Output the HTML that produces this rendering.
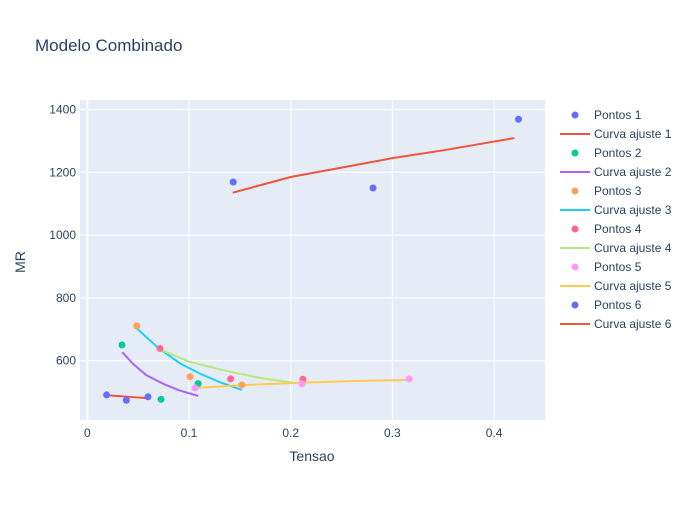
<!DOCTYPE html>
<html><head><meta charset="utf-8"><style>
body{margin:0;background:#fff;font-family:"Liberation Sans",Arial,sans-serif}
svg text{font-family:"Liberation Sans",Arial,sans-serif;fill:#2a3f5f}
</style></head><body>
<svg id="c" width="700" height="500" xmlns="http://www.w3.org/2000/svg">
<rect width="700" height="500" fill="#fff"/>
<text x="35" y="51" font-size="17">Modelo Combinado</text>
<rect x="80" y="100" width="465" height="320" fill="#e5ecf6"/>
<g id="grid"></g><g id="marks"></g><g id="legend"></g>
<text x="312" y="461" font-size="14" text-anchor="middle">Tensao</text>
<text x="25" y="262" font-size="14" text-anchor="middle" transform="rotate(-90 25 262)">MR</text>
</svg>
<script>
const xTicks=[0,0.1,0.2,0.3,0.4];
const yTicks=[600,800,1000,1200,1400];
const seriesNames=["1","2","3","4","5","6"];
const pointColors=["#636efa","#00cc96","#FFA15A","#FF6692","#FF97FF","#636efa"];
const curveColors=["#EF553B","#ab63fa","#19d3f3","#B6E880","#FECB52","#EF553B"];
const pts1x=[0.1435,0.281,0.424], pts1y=[1169,1150,1369];
const pts2x=[0.0341,0.109,0.0725], pts2y=[650,527,477];
const pts3x=[0.0486,0.101,0.152], pts3y=[711,549,523];
const pts4x=[0.0715,0.141,0.212], pts4y=[639,542,541];
const pts5x=[0.106,0.211,0.3166], pts5y=[513,526,542];
const pts6x=[0.019,0.0384,0.0597], pts6y=[491,474,485];
const cur1x=[0.143,0.2,0.25,0.3,0.35,0.42], cur1y=[1135,1185,1215,1245,1270,1309];
const cur2x=[0.0344,0.045,0.058,0.075,0.09,0.109], cur2y=[627,590,554,526,506,488];
const cur3x=[0.0486,0.07,0.091,0.11,0.13,0.152], cur3y=[703,640,592,560,532,507];
const cur4x=[0.0715,0.1,0.14,0.17,0.2025], cur4y=[636,597,565,545,530];
const cur5x=[0.106,0.15,0.211,0.26,0.3166], cur5y=[513,522,530,535,539];
const cur6x=[0.019,0.04,0.0597], cur6y=[490,485,481];
const P=[[pts1x,pts1y],[pts2x,pts2y],[pts3x,pts3y],[pts4x,pts4y],[pts5x,pts5y],[pts6x,pts6y]];
const C=[[cur1x,cur1y],[cur2x,cur2y],[cur3x,cur3y],[cur4x,cur4y],[cur5x,cur5y],[cur6x,cur6y]];
const NS="http://www.w3.org/2000/svg";
const X=v=>87.3+v*1017, Y=v=>360.7-(v-600)*0.314;
function mk(t,a,p){const e=document.createElementNS(NS,t);for(const k in a)e.setAttribute(k,a[k]);p.appendChild(e);return e;}
const g=document.getElementById('grid'),m=document.getElementById('marks'),lg=document.getElementById('legend');
xTicks.forEach(v=>{const l=mk('line',{x1:X(v),x2:X(v),y1:100,y2:420,stroke:'#fff','stroke-width':v===0?2:1},g);


const t=mk('text',{x:X(v),y:437,'font-size':12,'text-anchor':'middle'},g);t.textContent=String(v);

});
yTicks.forEach(v=>{const l=mk('line',{x1:80,x2:545,y1:Y(v),y2:Y(v),stroke:'#fff','stroke-width':1},g);


const t=mk('text',{x:76,y:Y(v)+4,'font-size':12,'text-anchor':'end'},g);t.textContent=String(v);

});
for(let i=0;i<6;i++){
 const [cx,cy]=C[i];
 const pl=mk('polyline',{points:cx.map((v,j)=>X(v)+','+Y(cy[j])).join(' '),fill:'none',stroke:curveColors[i],'stroke-width':2},m);
 
 
}
for(let i=0;i<6;i++){
 const [px,py]=P[i];
 px.forEach((v,j)=>{const c=mk('circle',{cx:X(v),cy:Y(py[j]),r:3.5,fill:pointColors[i]},m);
 
 });
}
for(let i=0;i<12;i++){
 const s=Math.floor(i/2),y=115+i*19,isP=i%2===0;
 if(isP){const c=mk('circle',{cx:575,cy:y,r:3.5,fill:pointColors[s]},lg);
  
  }
 else{const l=mk('line',{x1:560,x2:590,y1:y,y2:y,stroke:curveColors[s],'stroke-width':2},lg);
  
  }
 const t=mk('text',{x:594,y:y+4,'font-size':12},lg);
 t.textContent=(isP?'Pontos ':'Curva ajuste ')+seriesNames[s];
 
 
}
</script>
</body></html>
